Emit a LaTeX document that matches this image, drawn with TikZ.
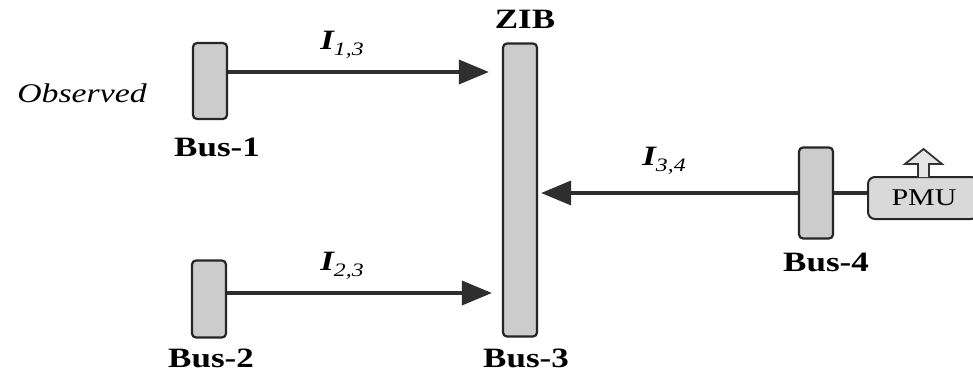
\documentclass[tikz,border=0pt]{standalone}
\usepackage{fontspec}
\setmainfont{Liberation Serif}
\usetikzlibrary{arrows.meta,calc}
\newcommand\hw[1]{\scalebox{1.25}[1]{#1}}
\newcommand\cur[1]{\hw{{\bfseries I}\raisebox{-6pt}{\fontsize{19}{20}\selectfont #1}}}
\begin{document}
\begin{tikzpicture}[x=1pt,y=-1pt,
  busbox/.style={draw=black!85,line width=2.2pt,fill=black!20,rounded corners=4pt,inner sep=0pt,minimum width=34pt},
  buslbl/.style={font=\fontsize{28}{30}\selectfont\bfseries,inner sep=0pt},
  curlbl/.style={font=\fontsize{28}{30}\selectfont\itshape,inner sep=0pt},
  arr/.style={draw=black!82,line width=3.6pt,-{Triangle[length=30pt,width=24pt]}},
  conn/.style={draw=black!82,line width=3.2pt}]
\useasboundingbox (0,0) rectangle (973,380);
\fill[white] (0,0) rectangle (973,380);
% buses
\node[busbox,minimum height=76pt] (bus1) at (210,81) {};
\node[busbox,minimum height=77pt] (bus2) at (209,299) {};
\node[busbox,minimum height=293pt] (bus3) at (520,190) {};
\node[busbox,minimum height=91pt] (bus4) at (816,193) {};
\node[draw=black!85,line width=2pt,fill=black!15,rounded corners=7pt,minimum width=110pt,minimum height=42pt,inner sep=0pt] (pmu) at (923,198) {};
\node[font=\fontsize{24}{26}\selectfont,inner sep=0pt] (pmut) at (924,198) {\hw{PMU}};
% labels
\node[buslbl] (l1) at (217,147) {\hw{Bus-1}};
\node[buslbl] (l2) at (211,358) {\hw{Bus-2}};
\node[buslbl] (l3) at (526,358) {\hw{Bus-3}};
\node[buslbl] (l4) at (826,262) {\hw{Bus-4}};
\node[buslbl] (zib) at (525,19) {\hw{ZIB}};
\node[font=\fontsize{27}{29}\selectfont\itshape,inner sep=0pt] (obs) at (82,93) {\hw{Observed}};
\node[curlbl] (i13) at (342,45) {\cur{1,3}};
\node[curlbl] (i23) at (342,266) {\cur{2,3}};
\node[curlbl] (i34) at (664,161) {\cur{3,4}};
% connectors
\coordinate (s1) at ($(bus1.east)+(0,-9)$);
\coordinate (s2) at ($(bus2.east)+(0,-6)$);
\draw[arr,shorten >=13pt] (s1) -- (bus3.west |- s1);
\draw[arr,shorten >=10pt] (s2) -- (bus3.west |- s2);
\draw[arr,shorten >=3pt] (bus4.west) -- (bus3.east |- bus4.west);
\draw[conn] (bus4.east) -- (pmu.west |- bus4.east);
% hollow up arrow on PMU
\draw[draw=black!80,line width=1.8pt,fill=black!10,line join=miter]
  (918,177) -- (918,164) -- (905,164) -- (923.5,149) -- (942,164) -- (929,164) -- (929,177);
\end{tikzpicture}
\end{document}
